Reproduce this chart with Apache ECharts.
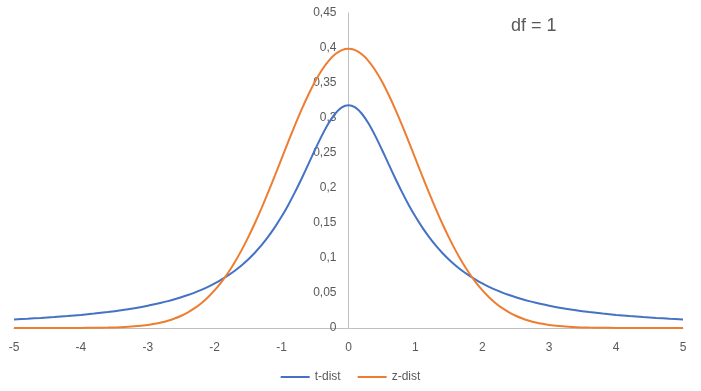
<!DOCTYPE html>
<html><head><meta charset="utf-8">
<script src="https://cdn.jsdelivr.net/npm/echarts@6/dist/echarts.min.js"></script>
<style>html,body{margin:0;padding:0;background:#fff}#c{width:701px;height:391px}</style>
</head><body><div id="c"></div>
<script>
const xs = [-5,-4.8,-4.6,-4.4,-4.2,-4,-3.8,-3.6,-3.4,-3.2,-3,-2.9,-2.8,-2.7,-2.6,-2.5,-2.4,-2.3,-2.2,-2.1,-2,-1.9,-1.8,-1.7,-1.6,-1.5,-1.4,-1.3,-1.2,-1.1,-1,-0.9,-0.8,-0.7,-0.6,-0.5,-0.4,-0.3,-0.2,-0.1,0,0.1,0.2,0.3,0.4,0.5,0.6,0.7,0.8,0.9,1,1.1,1.2,1.3,1.4,1.5,1.6,1.7,1.8,1.9,2,2.1,2.2,2.3,2.4,2.5,2.6,2.7,2.8,2.9,3,3.2,3.4,3.6,3.8,4,4.2,4.4,4.6,4.8,5];
const tDist = [0.01224,0.01324,0.01436,0.01563,0.01708,0.01872,0.02062,0.02280,0.02534,0.02832,0.03183,0.03383,0.03601,0.03840,0.04102,0.04391,0.04709,0.05061,0.05451,0.05884,0.06366,0.06905,0.07507,0.08183,0.08941,0.09794,0.10754,0.11833,0.13046,0.14403,0.15915,0.17586,0.19409,0.21363,0.23405,0.25465,0.27441,0.29203,0.30607,0.31516,0.31831,0.31516,0.30607,0.29203,0.27441,0.25465,0.23405,0.21363,0.19409,0.17586,0.15915,0.14403,0.13046,0.11833,0.10754,0.09794,0.08941,0.08183,0.07507,0.06905,0.06366,0.05884,0.05451,0.05061,0.04709,0.04391,0.04102,0.03840,0.03601,0.03383,0.03183,0.02832,0.02534,0.02280,0.02062,0.01872,0.01708,0.01563,0.01436,0.01324,0.01224];
const zDist = [0.0000015,0.000004,0.00001,0.00002,0.00006,0.00013,0.0003,0.0006,0.0012,0.0024,0.0044,0.00595,0.0079,0.01042,0.0136,0.01753,0.0224,0.02833,0.0355,0.04398,0.0540,0.06562,0.0790,0.09405,0.1109,0.12952,0.1497,0.17137,0.1942,0.21785,0.2420,0.26609,0.2897,0.31225,0.3332,0.35207,0.3683,0.38139,0.3910,0.39695,0.3989,0.39695,0.3910,0.38139,0.3683,0.35207,0.3332,0.31225,0.2897,0.26609,0.2420,0.21785,0.1942,0.17137,0.1497,0.12952,0.1109,0.09405,0.0790,0.06562,0.0540,0.04398,0.0355,0.02833,0.0224,0.01753,0.0136,0.01042,0.0079,0.00595,0.0044,0.0024,0.0012,0.0006,0.0003,0.00013,0.00006,0.00002,0.00001,0.000004,0.0000015];
const seriesNames = ['t-dist','z-dist'];
const titleText = 'df = 1';

const chart = echarts.init(document.getElementById('c'), null, {renderer:'canvas'});
const fmt = v => String(+v.toFixed(2)).replace('.', ',');
const font = 'Liberation Sans, Arial, sans-serif';
const gridLeft = 14, gridRight = 18, W = 701;
const zeroOffset = -((W - gridLeft - gridRight) / 2);
chart.setOption({
  animation:false,
  textStyle:{fontFamily:font},
  title:{text:titleText,left:506,top:12,textStyle:{fontSize:18,fontWeight:'normal',color:'#595959',fontFamily:font}},
  grid:{left:gridLeft,right:gridRight,top:13,bottom:63,containLabel:false,outerBoundsMode:'none'},
  legend:{bottom:3,left:'center',icon:'rect',itemWidth:29,itemHeight:2,itemGap:17,
    textStyle:{color:'#595959',fontSize:12,fontFamily:font},data:seriesNames},
  xAxis:{type:'value',min:-5,max:5,interval:1,
    axisLine:{show:true,onZero:true,lineStyle:{color:'#BFBFBF',width:1}},
    axisTick:{show:false},splitLine:{show:false},
    axisLabel:{color:'#595959',fontSize:12,margin:14,fontFamily:font,formatter:v=>String(v)}},
  yAxis:{type:'value',min:0,max:0.45,interval:0.05,position:'left',offset:zeroOffset,
    axisLine:{show:true,onZero:false,lineStyle:{color:'#BFBFBF',width:1}},
    axisTick:{show:false},splitLine:{show:false},
    axisLabel:{color:'#595959',fontSize:12,margin:12,fontFamily:font,formatter:fmt}},
  series:[
    {name:seriesNames[0],type:'line',smooth:0.3,showSymbol:false,symbol:'none',
     lineStyle:{color:'#4472C4',width:2},itemStyle:{color:'#4472C4'},
     data:xs.map((x,i)=>[x,tDist[i]])},
    {name:seriesNames[1],type:'line',smooth:0.3,showSymbol:false,symbol:'none',
     lineStyle:{color:'#ED7D31',width:2},itemStyle:{color:'#ED7D31'},
     data:xs.map((x,i)=>[x,zDist[i]])}
  ]
});
</script></body></html>
